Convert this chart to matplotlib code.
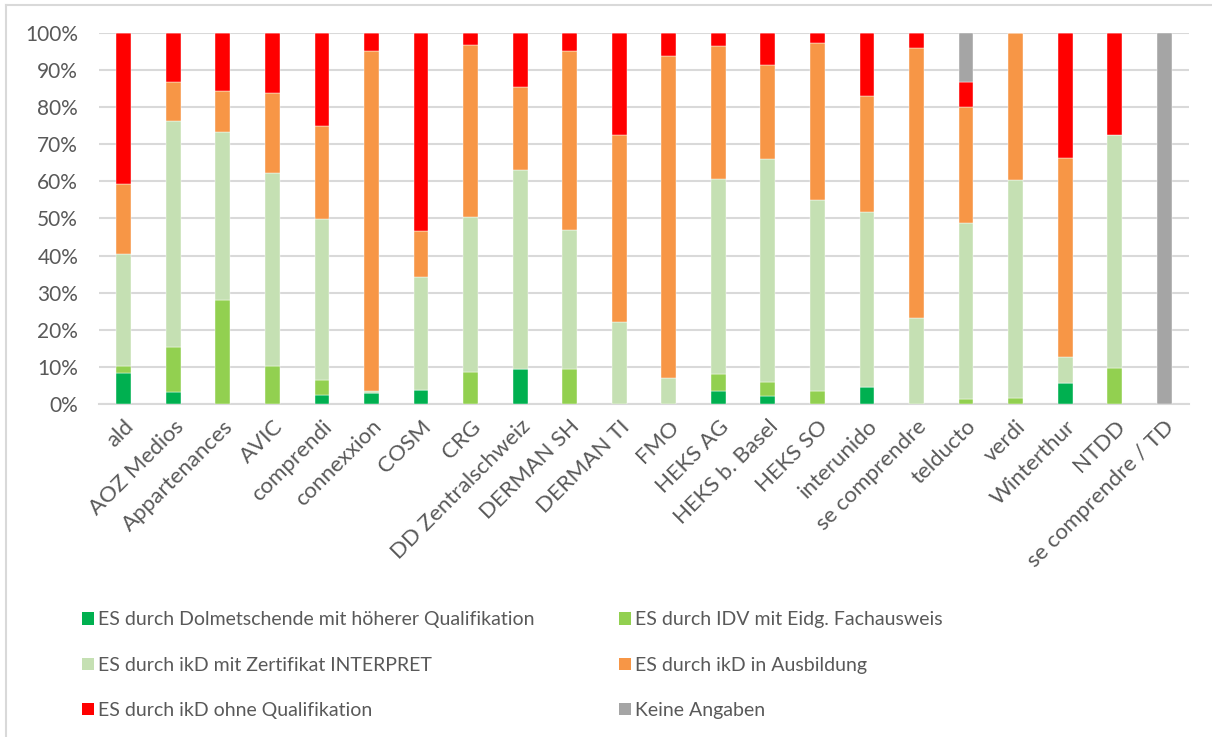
import numpy as np
import matplotlib
matplotlib.use("Agg")
import matplotlib.pyplot as plt
from matplotlib.patches import Patch
from matplotlib.ticker import PercentFormatter

plt.rcParams['font.family'] = ['Lato', 'DejaVu Sans']

# Data (shares in %)
categories = ["ald", "AOZ Medios", "Appartenances", "AVIC", "comprendi", "connexxion",
              "COSM", "CRG", "DD Zentralschweiz", "DERMAN SH", "DERMAN TI", "FMO",
              "HEKS AG", "HEKS b. Basel", "HEKS SO", "interunido", "se comprendre",
              "telducto", "verdi", "Winterthur", "NTDD", "se comprendre / TD"]

hoeher = [8.4, 3.1, 0, 0, 2.3, 3.0, 3.7, 0, 9.5, 0, 0, 0, 3.4, 2.1, 0, 4.5, 0, 0, 0, 5.6, 0, 0]
idv = [1.9, 12.2, 27.9, 10.2, 4.1, 0, 0, 8.5, 0, 9.5, 0, 0, 4.6, 3.7, 3.4, 0, 0, 1.3, 1.5, 0, 9.6, 0]
interpret = [30.2, 60.9, 45.3, 52.1, 43.5, 0.6, 30.4, 41.9, 53.7, 37.5, 22.0, 7.1, 52.6, 60.3, 51.7,
             47.2, 23.2, 47.6, 59.0, 7.0, 62.9, 0]
ausbildung = [18.9, 10.5, 11.3, 21.5, 25.1, 91.5, 12.4, 46.4, 22.2, 48.1, 50.6, 86.8, 36.0, 25.4,
              42.1, 31.4, 72.7, 31.1, 39.5, 53.8, 0, 0]
ohne = [40.6, 13.3, 15.5, 16.2, 25.0, 4.9, 53.5, 3.2, 14.6, 4.9, 27.4, 6.1, 3.4, 8.5, 2.8,
        16.9, 4.1, 6.8, 0, 33.6, 27.5, 0]
keine = [0, 0, 0, 0, 0, 0, 0, 0, 0, 0, 0, 0, 0, 0, 0, 0, 0, 13.2, 0, 0, 0, 100]

series = [
    ("ES durch Dolmetschende mit höherer Qualifikation", hoeher, "#00B050"),
    ("ES durch IDV mit Eidg. Fachausweis", idv, "#92D050"),
    ("ES durch ikD mit Zertifikat INTERPRET", interpret, "#C5E0B3"),
    ("ES durch ikD in Ausbildung", ausbildung, "#F79646"),
    ("ES durch ikD ohne Qualifikation", ohne, "#FF0000"),
    ("Keine Angaben", keine, "#A5A5A5"),
]

fig = plt.figure(figsize=(12.12, 7.37), dpi=100)
W, H = 1212, 737
# plot area in pixels: x 99..1189, y 33..404
ax = fig.add_axes([99 / W, 1 - 404 / H, (1189 - 99) / W, (404 - 33) / H])

x = np.arange(len(categories))
bottom = np.zeros(len(categories))
for name, vals, col in series:
    vals = np.array(vals, dtype=float)
    ax.bar(x, vals, 0.3, bottom=bottom, color=col, edgecolor='white', linewidth=0.3, zorder=3)
    bottom += vals

ax.set_xlim(-0.5, len(categories) - 0.5)
ax.set_ylim(0, 100)
ax.set_yticks(np.arange(0, 101, 10))
ax.yaxis.set_major_formatter(PercentFormatter(decimals=0))
ax.grid(axis='y', color='#D9D9D9', linewidth=1.5, zorder=0)
for s in ['top', 'right', 'left']:
    ax.spines[s].set_visible(False)
ax.spines['bottom'].set_color('#D9D9D9')
ax.spines['bottom'].set_linewidth(1.5)
ax.tick_params(axis='both', length=0, colors='#595959')
ax.tick_params(axis='y', labelsize=15, pad=15)
ax.tick_params(axis='x', labelsize=16, pad=9)
ax.set_xticks(x)
ax.set_xticklabels(categories, rotation=45, ha='right', rotation_mode='anchor')

# chart border (visible parts)
fig.add_artist(plt.Line2D([6 / W, 6 / W], [0, 1 - 5 / H], color='#D9D9D9', linewidth=1.5))
fig.add_artist(plt.Line2D([6 / W, 1], [1 - 5 / H, 1 - 5 / H], color='#D9D9D9', linewidth=1.5))

handles = [Patch(facecolor=c, label=n) for n, v, c in series]
order = [0, 2, 4, 1, 3, 5]
leg = fig.legend([handles[i] for i in order], [handles[i].get_label() for i in order],
                 ncol=2, loc='upper left', bbox_to_anchor=(64 / W, 1 - 594 / H),
                 frameon=False, fontsize=14, handlelength=0.62, handleheight=0.62,
                 handletextpad=0.25, columnspacing=4.3, labelspacing=1.45, labelcolor='#595959')

fig.savefig("out.png", dpi=100, facecolor='white')
